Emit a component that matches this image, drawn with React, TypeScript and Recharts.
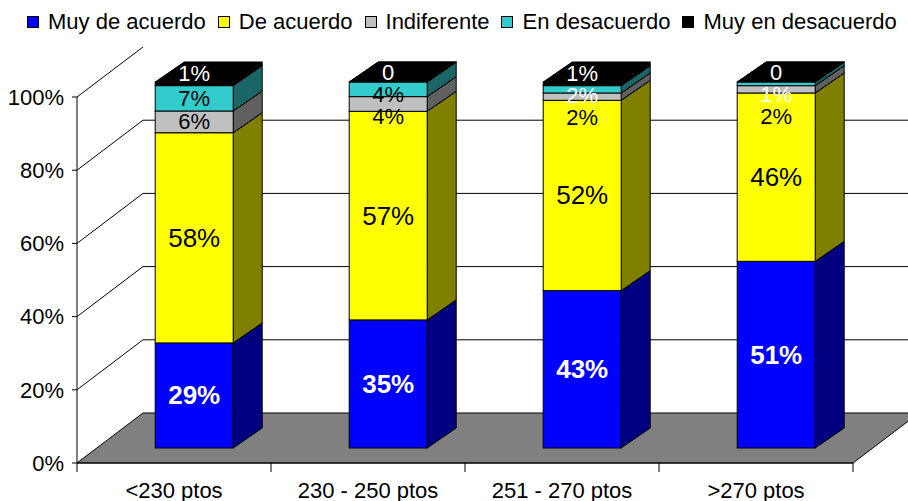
import { BarChart, Bar, XAxis, YAxis, CartesianGrid } from 'recharts';

const categories = ['<230 ptos', '230 - 250 ptos', '251 - 270 ptos', '>270 ptos'];
const muyDeAcuerdo = [29, 35, 43, 51];
const deAcuerdo = [58, 57, 52, 46];
const indiferente = [6, 4, 2, 2];
const enDesacuerdo = [7, 4, 2, 1];
const muyEnDesacuerdo = [1, 0, 1, 0];
const yTicks = [0, 20, 40, 60, 80, 100];

const FONT = '"Liberation Sans", Arial, sans-serif';

// 3D geometry (px): full floor depth, bar front offset, bar depth
const DEPTH = { dx: 66, dy: -50 };
const FRONT = { dx: 20, dy: -15 };
const BOX = { dx: 29, dy: -20 };

const SERIES = [
  { key: 'muyDeAcuerdo', name: 'Muy de acuerdo', front: '#0000FF', side: '#000080', fontSize: 26 },
  { key: 'deAcuerdo', name: 'De acuerdo', front: '#FFFF00', side: '#808000', fontSize: 26 },
  { key: 'indiferente', name: 'Indiferente', front: '#C0C0C0', side: '#606060', fontSize: 22 },
  { key: 'enDesacuerdo', name: 'En desacuerdo', front: '#33CCCC', side: '#1A6666', fontSize: 22 },
  { key: 'muyEnDesacuerdo', name: 'Muy en desacuerdo', front: '#000000', side: '#000000', fontSize: 22 },
];

const data = categories.map((name, i) => ({
  name,
  muyDeAcuerdo: muyDeAcuerdo[i],
  deAcuerdo: deAcuerdo[i],
  indiferente: indiferente[i],
  enDesacuerdo: enDesacuerdo[i],
  muyEnDesacuerdo: muyEnDesacuerdo[i],
}));

const labelColor = (idx: number, v: number) => {
  if (idx === 0 || idx === 4) return '#FFFFFF';
  if (idx === 3 && v < 3) return '#FFFFFF';
  return '#000000';
};

// label centres, top to bottom, pushed down so they don't collide
function labelYs(payload: any, toPx: (f: number) => number) {
  const vals = SERIES.map((s) => payload[s.key] as number);
  const total = vals.reduce((a, b) => a + b, 0);
  let cum = 0;
  const mids = vals.map((v) => {
    const m = (cum + v / 2) / total;
    cum += v;
    return m;
  });
  const ys: number[] = [];
  let prev = -Infinity;
  for (let i = vals.length - 1; i >= 0; i--) {
    let yy = toPx(mids[i]);
    if (i === vals.length - 1) yy -= 10;
    else yy = Math.max(yy, prev + 22);
    ys[i] = yy;
    prev = yy;
  }
  return ys;
}

function Box3D(props: any) {
  const { x, y, width, height, payload, background, idx } = props;
  const fx = x + FRONT.dx;
  const fy = y + FRONT.dy;
  const h = Math.max(height, 0);
  const s = SERIES[idx];
  const side = [
    [fx + width, fy],
    [fx + width + BOX.dx, fy + BOX.dy],
    [fx + width + BOX.dx, fy + h + BOX.dy],
    [fx + width, fy + h],
  ];
  const top = [
    [fx, fy],
    [fx + BOX.dx, fy + BOX.dy],
    [fx + width + BOX.dx, fy + BOX.dy],
    [fx + width, fy],
  ];
  const bgTop = background ? background.y : 97;
  const bgH = background ? background.height : 366;
  const toPx = (f: number) => bgTop + bgH - f * bgH + FRONT.dy;
  const ly = labelYs(payload, toPx)[idx];
  const v = payload[s.key];
  return (
    <g>
      <polygon points={side.map((p) => p.join(',')).join(' ')} fill={s.side} stroke="#000" strokeWidth={1} />
      <polygon points={top.map((p) => p.join(',')).join(' ')} fill={SERIES[SERIES.length - 1].front} stroke="#000" strokeWidth={1} />
      <rect x={fx} y={fy} width={width} height={h} fill={s.front} stroke="#000" strokeWidth={1} />
      <text
        x={fx + width / 2}
        y={ly}
        textAnchor="middle"
        dominantBaseline="central"
        fontFamily={FONT}
        fontSize={s.fontSize}
        fontWeight={idx === 0 ? 'bold' : 'normal'}
        fill={labelColor(idx, v)}
      >
        {v === 0 ? '0' : `${v}%`}
      </text>
    </g>
  );
}

function GridLine(p: any) {
  const { x1, x2, y1, y, height } = p;
  const bottom = y + height;
  if (Math.abs(y1 - bottom) < 0.5) {
    const pts = [
      [x1, y1],
      [x2, y1],
      [x2 + DEPTH.dx, y1 + DEPTH.dy],
      [x1 + DEPTH.dx, y1 + DEPTH.dy],
    ];
    return <polygon key={p.key} points={pts.map((q) => q.join(',')).join(' ')} fill="#808080" stroke="#000" strokeWidth={1} />;
  }
  if (Math.abs(y1 - y) < 0.5) {
    return <line key={p.key} x1={x1} y1={y1} x2={x1 + DEPTH.dx} y2={y1 + DEPTH.dy} stroke="#000" strokeWidth={1} />;
  }
  return (
    <polyline
      key={p.key}
      points={`${x1},${y1} ${x1 + DEPTH.dx},${y1 + DEPTH.dy} ${x2 + DEPTH.dx},${y1 + DEPTH.dy}`}
      fill="none"
      stroke="#000"
      strokeWidth={1}
    />
  );
}

function XTick(props: any) {
  const { x, y, payload, index, visibleTicksCount } = props;
  const half = payload.offset || 97;
  const last = index === visibleTicksCount - 1;
  return (
    <g>
      <line x1={x - half} y1={y - 9} x2={x - half} y2={y} stroke="#000" />
      {last && <line x1={x + half} y1={y - 9} x2={x + half} y2={y} stroke="#000" />}
      <text x={x} y={y + 18} textAnchor="middle" dominantBaseline="central" fontFamily={FONT} fontSize={22} fill="#000">
        {payload.value}
      </text>
    </g>
  );
}

function Legend() {
  return (
    <div
      style={{
        position: 'absolute',
        left: 27,
        top: 10,
        display: 'flex',
        whiteSpace: 'nowrap',
        fontFamily: FONT,
        fontSize: 22,
        lineHeight: '24px',
        color: '#000',
      }}
    >
      {SERIES.map((s) => (
        <div key={s.key} style={{ display: 'flex', alignItems: 'center', marginRight: 12 }}>
          <span
            style={{
              display: 'inline-block',
              width: 10,
              height: 10,
              border: '1px solid #000',
              background: s.front,
              marginRight: 9,
            }}
          />
          {s.name}
        </div>
      ))}
    </div>
  );
}

export default function App() {
  return (
    <div style={{ position: 'absolute', left: 0, top: 0, width: 908, height: 501, background: '#fff' }}>
      <Legend />
      <BarChart
        width={908}
        height={501}
        data={data}
        stackOffset="expand"
        barCategoryGap="30%"
        margin={{ top: 97, right: 55, bottom: 8, left: 17 }}
      >
        <CartesianGrid vertical={false} horizontal={GridLine} />
        <XAxis dataKey="name" height={30} tickLine={false} tickSize={9} tickMargin={0} axisLine={{ stroke: '#000' }} tick={<XTick />} interval={0} />
        <YAxis
          type="number"
          domain={[0, 1]}
          ticks={yTicks.map((t) => t / 100)}
          tickFormatter={(v: number) => `${Math.round(v * 100)}%`}
          width={60}
          tickSize={5}
          tickMargin={8}
          axisLine={{ stroke: '#000' }}
          tickLine={{ stroke: '#000' }}
          tick={{ fill: '#000', fontSize: 22, fontFamily: FONT }}
        />
        {SERIES.map((s, i) => (
          <Bar
            key={s.key}
            dataKey={s.key}
            name={s.name}
            stackId="a"
            fill={s.front}
            isAnimationActive={false}
            shape={(p: any) => <Box3D {...p} idx={i} />}
          />
        ))}
      </BarChart>
    </div>
  );
}
